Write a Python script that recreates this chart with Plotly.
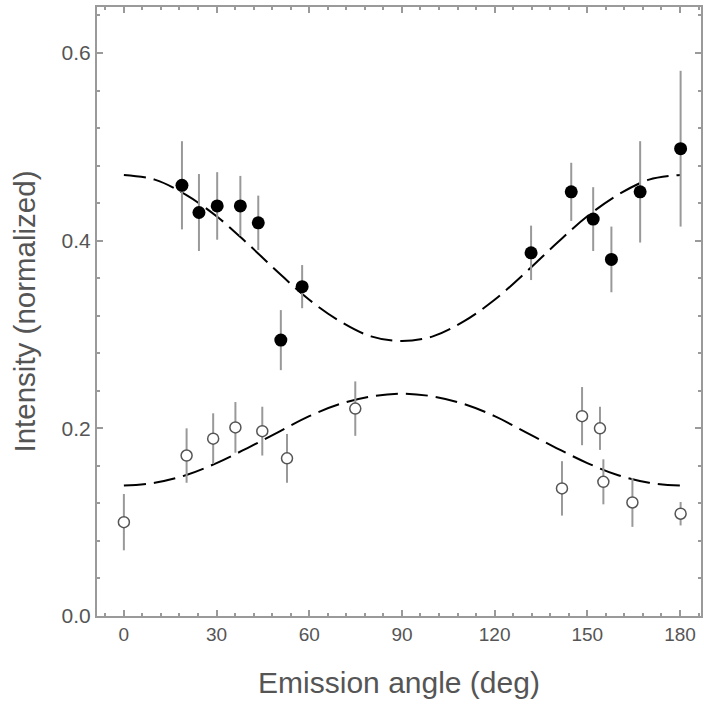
import plotly.graph_objects as go

# filled points (upper set)
up_x = [18.8, 24.3, 30.2, 37.7, 43.5, 50.8, 57.7, 131.8, 144.8, 151.9, 157.8, 167.1, 180.2]
up_y = [0.459, 0.430, 0.437, 0.437, 0.419, 0.294, 0.351, 0.387, 0.452, 0.423, 0.380, 0.452, 0.498]
up_err = [0.047, 0.041, 0.036, 0.032, 0.029, 0.032, 0.023, 0.029, 0.031, 0.034, 0.035, 0.054, 0.083]

# open points (lower set)
lo_x = [0.0, 20.3, 28.9, 36.1, 44.8, 52.8, 74.9, 141.8, 148.3, 154.1, 155.2, 164.6, 180.2]
lo_y = [0.100, 0.171, 0.189, 0.201, 0.197, 0.168, 0.221, 0.136, 0.213, 0.200, 0.143, 0.121, 0.109]
lo_err = [0.030, 0.029, 0.027, 0.027, 0.026, 0.026, 0.029, 0.029, 0.031, 0.023, 0.024, 0.026, 0.0125]

# fitted curves, every 10 deg
fit_x = [0, 10, 20, 30, 40, 50, 60, 70, 80, 90, 100, 110, 120, 130, 140, 150, 160, 170, 180]
fit_up = [0.470, 0.465, 0.449, 0.426, 0.397, 0.366, 0.337, 0.314, 0.298, 0.293,
          0.298, 0.314, 0.337, 0.366, 0.397, 0.426, 0.449, 0.465, 0.470]
fit_lo = [0.139, 0.142, 0.150, 0.163, 0.179, 0.196, 0.213, 0.226, 0.234, 0.237,
          0.234, 0.226, 0.213, 0.196, 0.179, 0.163, 0.150, 0.142, 0.139]

x_ticks = [0, 30, 60, 90, 120, 150, 180]
y_ticks = [0.0, 0.2, 0.4, 0.6]

AXIS_GRAY = "#9a9a9a"
TEXT_GRAY = "#555555"
ERR_GRAY = "#999999"

fig = go.Figure()

for fy in (fit_up, fit_lo):
    fig.add_trace(go.Scatter(
        x=fit_x, y=fy, mode="lines", line_shape="spline",
        line=dict(color="black", width=2, dash="22px,8px"),
        hoverinfo="skip",
    ))

fig.add_trace(go.Scatter(
    x=up_x, y=up_y, mode="markers",
    marker=dict(symbol="circle", size=13, color="black"),
    error_y=dict(type="data", array=up_err, color=ERR_GRAY, thickness=2, width=0),
))

fig.add_trace(go.Scatter(
    x=lo_x, y=lo_y, mode="markers",
    marker=dict(symbol="circle", size=11, color="white",
                line=dict(color="#555555", width=1.5)),
    error_y=dict(type="data", array=lo_err, color=ERR_GRAY, thickness=2, width=0),
))

fig.update_layout(
    width=704, height=706,
    margin=dict(l=97, r=1, t=7, b=90),
    plot_bgcolor="white", paper_bgcolor="white",
    showlegend=False,
    font=dict(family="Liberation Sans, Arial, sans-serif", color=TEXT_GRAY),
)

fig.update_xaxes(
    range=[-8.7, 186.8],
    tickvals=x_ticks, ticktext=[str(v) for v in x_ticks],
    ticks="inside", ticklen=6, tickwidth=1.5, tickcolor=AXIS_GRAY,
    minor=dict(dtick=6, tick0=0, ticks="inside", ticklen=3, tickcolor=AXIS_GRAY),
    showline=True, linecolor=AXIS_GRAY, linewidth=2, mirror="ticks",
    showgrid=False, zeroline=False,
    tickfont=dict(size=19, color=TEXT_GRAY),
    title=dict(text="Emission angle (deg)", font=dict(size=30, color=TEXT_GRAY), standoff=28),
)

fig.update_yaxes(
    range=[0, 0.649],
    tickvals=y_ticks, ticktext=["0.0", "0.2", "0.4", "0.6"],
    ticks="inside", ticklen=6, tickwidth=1.5, tickcolor=AXIS_GRAY,
    minor=dict(dtick=0.04, tick0=0, ticks="inside", ticklen=3, tickcolor=AXIS_GRAY),
    showline=True, linecolor=AXIS_GRAY, linewidth=2, mirror="ticks",
    showgrid=False, zeroline=False,
    tickfont=dict(size=21, color=TEXT_GRAY),
    title=dict(text="Intensity (normalized)", font=dict(size=29.5, color=TEXT_GRAY), standoff=17),
)

# drop the default 8px body margin so the figure sits at the window origin
fig.write_html("out.html", config={"displayModeBar": False},
               post_script="document.body.style.margin='0';")
